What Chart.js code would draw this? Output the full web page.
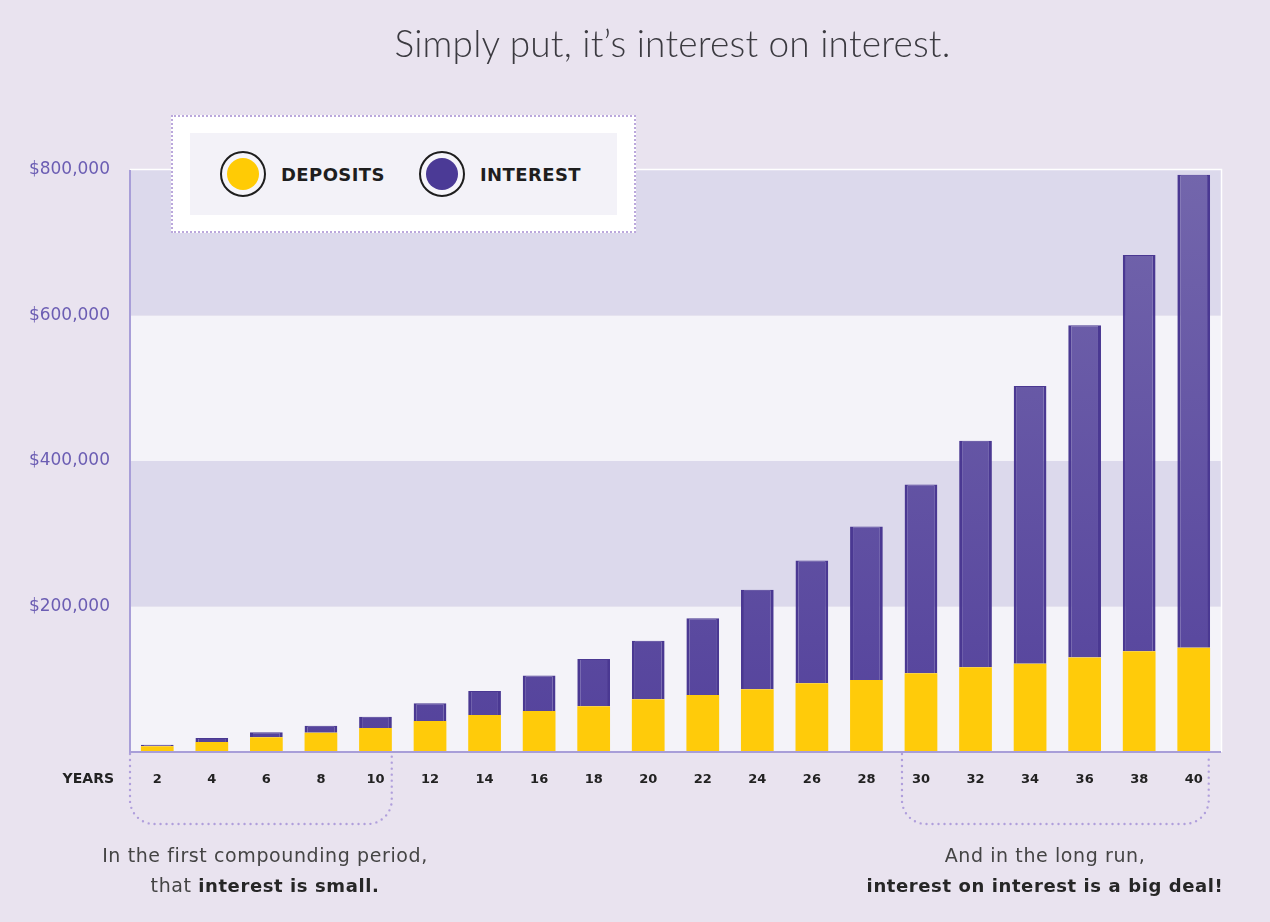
<!DOCTYPE html>
<html>
<head>
<meta charset="utf-8">
<script src="https://cdn.jsdelivr.net/npm/chart.js@4/dist/chart.umd.min.js"></script>
<style>
  html, body { margin: 0; padding: 0; }
  body { width: 1270px; height: 922px; background: #e9e3ef; position: relative; overflow: hidden; font-family: "Lato", "Open Sans", sans-serif; }
  #wrap { position: absolute; left: 0; top: 0; width: 1270px; height: 922px; }
  .title { position: absolute; left: 0; width: 1345px; top: 20px; text-align: center; font-size: 37px; font-weight: 300; color: #3b3a40; letter-spacing: 0.2px; }
  .legend { position: absolute; left: 171px; top: 115px; width: 461px; height: 114px; background: #fff; border: 2px dotted #bba8dc; }
  .legend .inner { position: absolute; left: 17px; top: 16px; width: 427px; height: 82px; background: #f3f2f8; }
  .item { position: absolute; top: 18px; height: 46px; display: flex; align-items: center; font-family: "DejaVu Sans", sans-serif; font-weight: bold; font-size: 18px; letter-spacing: 0.4px; color: #1e1e1e; }
  .dot { width: 42px; height: 42px; border-radius: 50%; border: 2px solid #1e1e1e; position: relative; margin-right: 15px; background: #f6f5fa; }
  .dot::after { content: ""; position: absolute; left: 5px; top: 5px; width: 32px; height: 32px; border-radius: 50%; background: var(--c); }
  .years { position: absolute; left: 40px; top: 770px; width: 74px; text-align: right; font-family: "DejaVu Sans", sans-serif; font-weight: bold; font-size: 14px; color: #222; }
  .note { position: absolute; top: 840px; text-align: center; font-size: 19px; letter-spacing: 0.6px; line-height: 30px; color: #444; font-family: "DejaVu Sans", sans-serif; }
  .note b { font-weight: bold; color: #262626; font-size: 18px; }
</style>
</head>
<body>
<div id="wrap"><canvas id="chart" width="1270" height="922"></canvas></div>
<div class="title">Simply put, it’s interest on interest.</div>
<div class="legend">
  <div class="inner">
    <div class="item" style="left:30px"><span class="dot" style="--c:#ffcb05"></span>DEPOSITS</div>
    <div class="item" style="left:229px"><span class="dot" style="--c:#4b3a96"></span>INTEREST</div>
  </div>
</div>
<div class="years">YEARS</div>
<div class="note" style="left:50px; width:430px">In the first compounding period,<br>that <b>interest is small.</b></div>
<div class="note" style="left:820px; width:450px">And in the long run,<br><b>interest on interest is a big deal!</b></div>

<script>
const years = ["2", "4", "6", "8", "10", "12", "14", "16", "18", "20", "22", "24", "26", "28", "30", "32", "34", "36", "38", "40"];
const deposits = [8000, 13800, 20200, 26600, 33000, 42700, 51000, 56500, 63000, 72600, 78500, 86300, 94600, 99000, 108400, 116600, 121200, 129900, 138600, 143200];
const interest = [2000, 5500, 6900, 9600, 15600, 24300, 33000, 48500, 65000, 80200, 105500, 136700, 168800, 211000, 259300, 311400, 381800, 456700, 544400, 650400];
const yTicks = [0, 200000, 400000, 600000, 800000];

const bandDark = "#dcd9ec";
const bandLight = "#f4f3f9";

function interestFill(context) {
  const chart = context.chart;
  const area = chart.chartArea;
  if (!area) return "#5b4aa0";
  const g = chart.ctx.createLinearGradient(0, area.top, 0, area.bottom);
  g.addColorStop(0, "#7366ac");
  g.addColorStop(1, "#54429c");
  return g;
}

function bracket(ctx, left, right, top, bottom, r) {
  ctx.beginPath();
  ctx.moveTo(left, top);
  ctx.lineTo(left, bottom - r);
  ctx.arcTo(left, bottom, left + r, bottom, r);
  ctx.lineTo(right - r, bottom);
  ctx.arcTo(right, bottom, right, bottom - r, r);
  ctx.lineTo(right, top);
  ctx.stroke();
}

const bandsPlugin = {
  id: "bands",
  beforeDraw(chart) {
    const { ctx, chartArea, scales } = chart;
    const y = scales.y;
    ctx.save();
    for (let i = 0; i < yTicks.length - 1; i++) {
      const top = y.getPixelForValue(yTicks[i + 1]);
      const bottom = y.getPixelForValue(yTicks[i]);
      ctx.fillStyle = i % 2 === 0 ? bandLight : bandDark;
      ctx.fillRect(chartArea.left, top, chartArea.right - chartArea.left, bottom - top);
    }
    ctx.strokeStyle = "#ffffff";
    ctx.lineWidth = 1.5;
    ctx.beginPath();
    ctx.moveTo(chartArea.left, chartArea.top - 0.5);
    ctx.lineTo(chartArea.right + 0.5, chartArea.top - 0.5);
    ctx.lineTo(chartArea.right + 0.5, chartArea.bottom);
    ctx.stroke();
    ctx.restore();
  },
  afterDatasetsDraw(chart) {
    const { ctx, chartArea, scales } = chart;
    const x = scales.x;
    ctx.save();
    ctx.strokeStyle = "#a89ed8";
    ctx.lineWidth = 2;
    ctx.beginPath();
    ctx.moveTo(chartArea.left, chartArea.top);
    ctx.lineTo(chartArea.left, chartArea.bottom);
    ctx.lineTo(chartArea.right, chartArea.bottom);
    ctx.stroke();

    // dotted brackets under the first and last groups of years
    ctx.strokeStyle = "#b09fdc";
    ctx.lineWidth = 2.4;
    ctx.lineCap = "round";
    ctx.setLineDash([0, 6]);
    const half = (x.getPixelForValue(1) - x.getPixelForValue(0)) / 2;
    const top = chartArea.bottom + 2;
    const bottom = chartArea.bottom + 72;
    bracket(ctx, chartArea.left, x.getPixelForValue(4) + half - 11, top, bottom, 24);
    bracket(ctx, x.getPixelForValue(14) - 19, x.getPixelForValue(19) + 15, top, bottom, 24);
    ctx.restore();
  },
};

new Chart(document.getElementById("chart"), {
  type: "bar",
  data: {
    labels: years,
    datasets: [
      {
        label: "Deposits",
        data: deposits,
        backgroundColor: "#ffcb0a",
        borderWidth: 0,
      },
      {
        label: "Interest",
        data: interest,
        backgroundColor: interestFill,
        borderColor: "#4a3892",
        borderWidth: { left: 3, right: 3, top: 1, bottom: 0 },
        borderSkipped: false,
      },
    ],
  },
  options: {
    responsive: false,
    animation: false,
    events: [],
    layout: { padding: { top: 170, right: 49, bottom: 0, left: 0 } },
    datasets: { bar: { categoryPercentage: 1, barPercentage: 0.6 } },
    plugins: { legend: { display: false }, tooltip: { enabled: false }, title: { display: false } },
    scales: {
      x: {
        stacked: true,
        grid: { display: false, drawTicks: false },
        border: { display: false },
        ticks: { color: "#222", padding: 20, maxRotation: 0, font: { family: "DejaVu Sans", weight: "bold", size: 13 } },
        afterFit: (s) => { s.height = 170; },
      },
      y: {
        stacked: true,
        min: 0,
        max: 800000,
        grid: { display: false, drawTicks: false },
        border: { display: false },
        afterBuildTicks: (s) => { s.ticks = yTicks.filter((v) => v > 0).map((v) => ({ value: v })); },
        ticks: {
          color: "#6b5db3",
          padding: 20,
          font: { family: "DejaVu Sans", size: 17 },
          callback: (v) => "$" + Number(v).toLocaleString("en-US"),
        },
        afterFit: (s) => { s.width = 130; },
      },
    },
  },
  plugins: [bandsPlugin],
});
</script>
</body>
</html>
